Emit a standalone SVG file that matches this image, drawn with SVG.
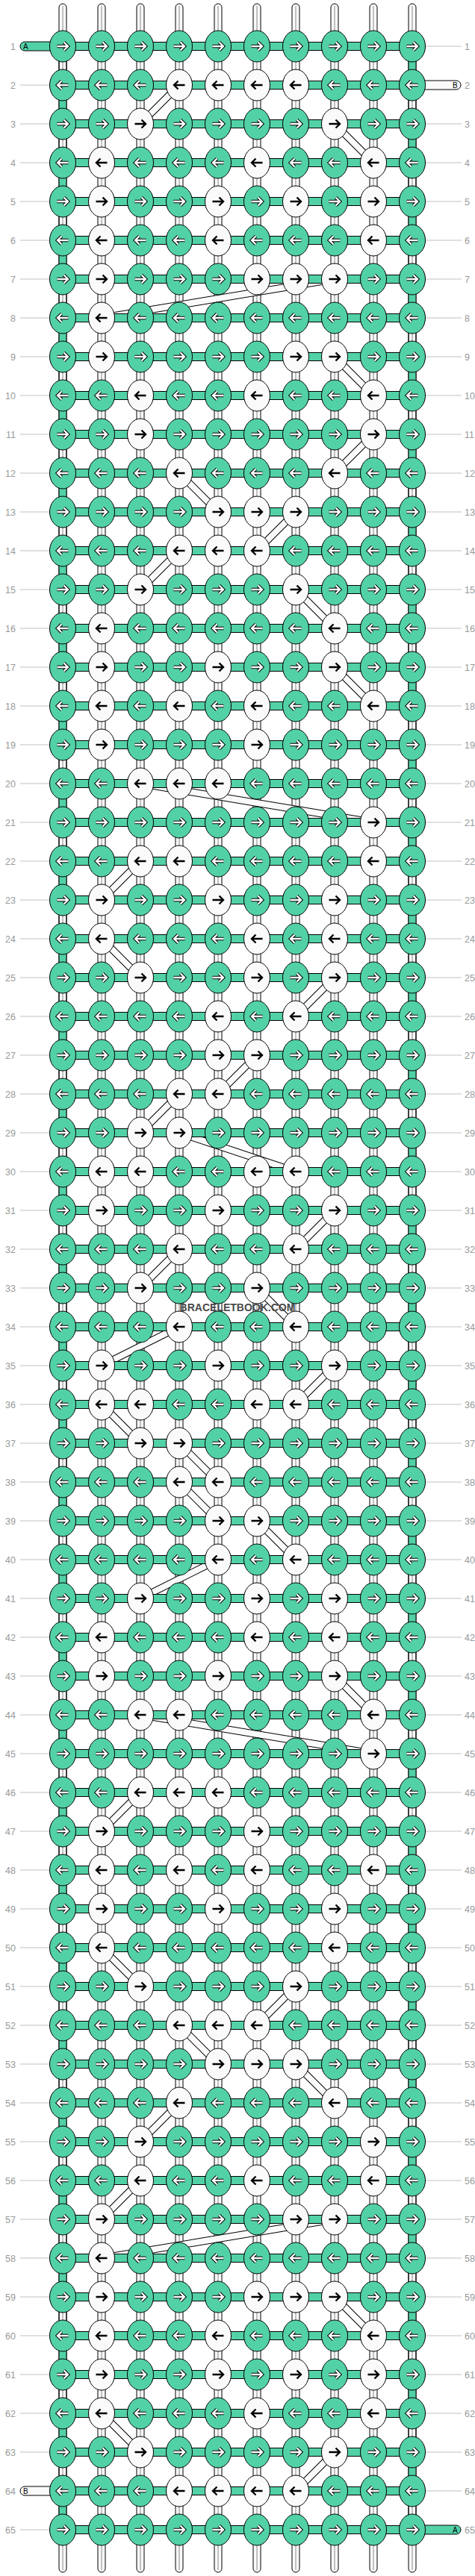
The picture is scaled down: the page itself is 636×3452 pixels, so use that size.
<svg xmlns="http://www.w3.org/2000/svg" xmlns:xlink="http://www.w3.org/1999/xlink" width="636" height="3452" viewBox="0 0 636 3452">
<style>
.g{fill:#52d1a7;stroke:#000;stroke-width:1}
.w{fill:#fafafa;stroke:#000;stroke-width:1}
.ao{fill:none;stroke:#000;stroke-width:4.4;stroke-linejoin:miter}
.ai{fill:none;stroke:#fff;stroke-width:2.4;stroke-linejoin:miter}
.ab{fill:none;stroke:#000;stroke-width:2.4;stroke-linejoin:miter}
.cl{fill:none;stroke:#888;stroke-width:1}
.bo{fill:none;stroke:#000;stroke-width:10}
.bi{fill:none;stroke:#fafafa;stroke-width:8}
.lb{font-family:"Liberation Sans",Arial,sans-serif;font-size:12.5px;fill:#999}
.st{font-family:"Liberation Sans",Arial,sans-serif;font-size:10px;fill:#000}
.wm{font-family:"Liberation Sans",Arial,sans-serif;font-size:14px;font-weight:bold;fill:#4a4a4a}
</style>
<defs>
<pattern id="gl" patternUnits="userSpaceOnUse" x="0" y="61.5" width="10" height="52"><rect width="10" height="1" fill="#c0c0c0"/></pattern>
<pattern id="p1" patternUnits="userSpaceOnUse" x="0" y="10" width="20" height="104"><rect width="20" height="52" fill="#52d1a7"/></pattern>
<pattern id="p10" patternUnits="userSpaceOnUse" x="0" y="62" width="20" height="104"><rect width="20" height="52" fill="#52d1a7"/></pattern>
<pattern id="hb" patternUnits="userSpaceOnUse" x="0" y="56" width="636" height="52"><rect x="-5" y="0.5" width="650" height="11" fill="#52d1a7" stroke="#000"/></pattern>
<path id="R" d="M-7.5 0H6M1.5-5.5L7 0L1.5 5.5"/>
<path id="L" d="M7.5 0H-6M-1.5-5.5L-7 0L-1.5 5.5"/>
<g id="a"><ellipse class="g" rx="17.5" ry="21"/><use href="#R" class="ao"/><use href="#R" class="ai"/></g>
<g id="b"><ellipse class="w" rx="17.5" ry="21"/><use href="#R" class="ab"/></g>
<g id="c"><ellipse class="g" rx="17.5" ry="21"/><use href="#L" class="ao"/><use href="#L" class="ai"/></g>
<g id="d"><ellipse class="w" rx="17.5" ry="21"/><use href="#L" class="ab"/></g>
<path id="bands" d="M240 114L188 166M448 166L500 218M448 374L136 426M448 478L500 530M500 582L448 634M240 634L292 686M396 686L344 738M240 738L188 790M396 790L448 842M448 894L500 946M188 1050L500 1102M188 1154L136 1206M136 1258L188 1310M448 1310L396 1362M344 1414L292 1466M240 1466L188 1518M240 1518L396 1570M448 1622L396 1674M240 1674L188 1726M344 1726L396 1778M240 1778L136 1830M448 1830L396 1882M136 1882L188 1934M240 1934L292 1986M240 1986L292 2038M344 2038L396 2090M292 2090L188 2142M448 2246L500 2298M188 2298L500 2350M188 2402L136 2454M136 2610L188 2662M396 2662L344 2714M240 2714L292 2766M396 2766L448 2818M240 2818L188 2870M188 2922L136 2974M448 2974L136 3026M448 3078L500 3130M136 3234L188 3286M448 3286L396 3338"/>
</defs>
<rect width="636" height="3452" fill="#fff"/>
<g id="labellines">
<rect x="27" y="60" width="40" height="3340" fill="url(#gl)"/>
<rect x="569" y="60" width="49" height="3340" fill="url(#gl)"/>
</g>
<g id="connectors">
<g id="threads">
<rect class="w" x="79" y="5" width="10" height="50" rx="5"/><rect class="w" x="131" y="5" width="10" height="50" rx="5"/><rect class="w" x="183" y="5" width="10" height="50" rx="5"/><rect class="w" x="235" y="5" width="10" height="50" rx="5"/><rect class="w" x="287" y="5" width="10" height="50" rx="5"/><rect class="w" x="339" y="5" width="10" height="50" rx="5"/><rect class="w" x="391" y="5" width="10" height="50" rx="5"/><rect class="w" x="443" y="5" width="10" height="50" rx="5"/><rect class="w" x="495" y="5" width="10" height="50" rx="5"/><rect class="w" x="547" y="5" width="10" height="50" rx="5"/>
<rect class="w" x="79" y="3397" width="10" height="50" rx="5"/><rect class="w" x="131" y="3397" width="10" height="50" rx="5"/><rect class="w" x="183" y="3397" width="10" height="50" rx="5"/><rect class="w" x="235" y="3397" width="10" height="50" rx="5"/><rect class="w" x="287" y="3397" width="10" height="50" rx="5"/><rect class="w" x="339" y="3397" width="10" height="50" rx="5"/><rect class="w" x="391" y="3397" width="10" height="50" rx="5"/><rect class="w" x="443" y="3397" width="10" height="50" rx="5"/><rect class="w" x="495" y="3397" width="10" height="50" rx="5"/><rect class="w" x="547" y="3397" width="10" height="50" rx="5"/>
</g>
<g id="verticals">
<rect class="w" x="79" y="50" width="10" height="3352"/><rect class="w" x="131" y="50" width="10" height="3352"/><rect class="w" x="183" y="50" width="10" height="3352"/><rect class="w" x="235" y="50" width="10" height="3352"/><rect class="w" x="287" y="50" width="10" height="3352"/><rect class="w" x="339" y="50" width="10" height="3352"/><rect class="w" x="391" y="50" width="10" height="3352"/><rect class="w" x="443" y="50" width="10" height="3352"/><rect class="w" x="495" y="50" width="10" height="3352"/><rect class="w" x="547" y="50" width="10" height="3352"/>
<path class="cl" d="M84 8V3444M136 8V3444M188 8V3444M240 8V3444M292 8V3444M344 8V3444M396 8V3444M448 8V3444M500 8V3444M552 8V3444"/>
<rect x="79" y="62" width="10" height="3328" fill="url(#p1)" stroke="#000"/>
<rect x="547" y="62" width="10" height="3328" fill="url(#p10)" stroke="#000"/>
</g>
<g id="diagonals"><use href="#bands" class="bo"/><use href="#bands" class="bi"/></g>
<rect id="horizontals" x="84" y="56" width="468" height="3340" fill="url(#hb)"/>
<g id="ends">
<rect class="g" x="27" y="56" width="60" height="12" rx="6"/><text class="st" x="31" y="65.5">A</text>
<rect class="w" x="540" y="108" width="77" height="12" rx="6"/><text class="st" x="606" y="117.5">B</text>
<rect class="w" x="27" y="3332" width="60" height="12" rx="6"/><text class="st" x="31" y="3341.5">B</text>
<rect class="g" x="540" y="3384" width="77" height="12" rx="6"/><text class="st" x="606" y="3393.5">A</text>
</g>
</g>
<g id="knots">
<g id="r1" transform="translate(0 62)"><use href="#a" x="84"/><use href="#a" x="136"/><use href="#a" x="188"/><use href="#a" x="240"/><use href="#a" x="292"/><use href="#a" x="344"/><use href="#a" x="396"/><use href="#a" x="448"/><use href="#a" x="500"/><use href="#a" x="552"/></g>
<g id="r2" transform="translate(0 114)"><use href="#c" x="84"/><use href="#c" x="136"/><use href="#c" x="188"/><use href="#d" x="240"/><use href="#d" x="292"/><use href="#d" x="344"/><use href="#d" x="396"/><use href="#c" x="448"/><use href="#c" x="500"/><use href="#c" x="552"/></g>
<g id="r3" transform="translate(0 166)"><use href="#a" x="84"/><use href="#a" x="136"/><use href="#b" x="188"/><use href="#a" x="240"/><use href="#a" x="292"/><use href="#a" x="344"/><use href="#a" x="396"/><use href="#b" x="448"/><use href="#a" x="500"/><use href="#a" x="552"/></g>
<g id="r4" transform="translate(0 218)"><use href="#c" x="84"/><use href="#d" x="136"/><use href="#c" x="188"/><use href="#c" x="240"/><use href="#c" x="292"/><use href="#d" x="344"/><use href="#c" x="396"/><use href="#c" x="448"/><use href="#d" x="500"/><use href="#c" x="552"/></g>
<g id="r5" transform="translate(0 270)"><use href="#a" x="84"/><use href="#b" x="136"/><use href="#a" x="188"/><use href="#a" x="240"/><use href="#b" x="292"/><use href="#a" x="344"/><use href="#b" x="396"/><use href="#a" x="448"/><use href="#b" x="500"/><use href="#a" x="552"/></g>
<g id="r6" transform="translate(0 322)"><use href="#c" x="84"/><use href="#d" x="136"/><use href="#c" x="188"/><use href="#c" x="240"/><use href="#d" x="292"/><use href="#c" x="344"/><use href="#c" x="396"/><use href="#c" x="448"/><use href="#d" x="500"/><use href="#c" x="552"/></g>
<g id="r7" transform="translate(0 374)"><use href="#a" x="84"/><use href="#b" x="136"/><use href="#a" x="188"/><use href="#a" x="240"/><use href="#a" x="292"/><use href="#b" x="344"/><use href="#b" x="396"/><use href="#b" x="448"/><use href="#a" x="500"/><use href="#a" x="552"/></g>
<g id="r8" transform="translate(0 426)"><use href="#c" x="84"/><use href="#d" x="136"/><use href="#c" x="188"/><use href="#c" x="240"/><use href="#c" x="292"/><use href="#c" x="344"/><use href="#c" x="396"/><use href="#c" x="448"/><use href="#c" x="500"/><use href="#c" x="552"/></g>
<g id="r9" transform="translate(0 478)"><use href="#a" x="84"/><use href="#b" x="136"/><use href="#a" x="188"/><use href="#a" x="240"/><use href="#a" x="292"/><use href="#a" x="344"/><use href="#b" x="396"/><use href="#b" x="448"/><use href="#a" x="500"/><use href="#a" x="552"/></g>
<g id="r10" transform="translate(0 530)"><use href="#c" x="84"/><use href="#c" x="136"/><use href="#d" x="188"/><use href="#c" x="240"/><use href="#c" x="292"/><use href="#d" x="344"/><use href="#c" x="396"/><use href="#c" x="448"/><use href="#d" x="500"/><use href="#c" x="552"/></g>
<g id="r11" transform="translate(0 582)"><use href="#a" x="84"/><use href="#a" x="136"/><use href="#b" x="188"/><use href="#a" x="240"/><use href="#a" x="292"/><use href="#a" x="344"/><use href="#a" x="396"/><use href="#a" x="448"/><use href="#b" x="500"/><use href="#a" x="552"/></g>
<g id="r12" transform="translate(0 634)"><use href="#c" x="84"/><use href="#c" x="136"/><use href="#c" x="188"/><use href="#d" x="240"/><use href="#c" x="292"/><use href="#c" x="344"/><use href="#c" x="396"/><use href="#d" x="448"/><use href="#c" x="500"/><use href="#c" x="552"/></g>
<g id="r13" transform="translate(0 686)"><use href="#a" x="84"/><use href="#a" x="136"/><use href="#a" x="188"/><use href="#a" x="240"/><use href="#b" x="292"/><use href="#b" x="344"/><use href="#b" x="396"/><use href="#a" x="448"/><use href="#a" x="500"/><use href="#a" x="552"/></g>
<g id="r14" transform="translate(0 738)"><use href="#c" x="84"/><use href="#c" x="136"/><use href="#c" x="188"/><use href="#d" x="240"/><use href="#d" x="292"/><use href="#d" x="344"/><use href="#c" x="396"/><use href="#c" x="448"/><use href="#c" x="500"/><use href="#c" x="552"/></g>
<g id="r15" transform="translate(0 790)"><use href="#a" x="84"/><use href="#a" x="136"/><use href="#b" x="188"/><use href="#a" x="240"/><use href="#a" x="292"/><use href="#a" x="344"/><use href="#b" x="396"/><use href="#a" x="448"/><use href="#a" x="500"/><use href="#a" x="552"/></g>
<g id="r16" transform="translate(0 842)"><use href="#c" x="84"/><use href="#d" x="136"/><use href="#c" x="188"/><use href="#c" x="240"/><use href="#c" x="292"/><use href="#c" x="344"/><use href="#c" x="396"/><use href="#d" x="448"/><use href="#c" x="500"/><use href="#c" x="552"/></g>
<g id="r17" transform="translate(0 894)"><use href="#a" x="84"/><use href="#b" x="136"/><use href="#a" x="188"/><use href="#a" x="240"/><use href="#b" x="292"/><use href="#a" x="344"/><use href="#a" x="396"/><use href="#b" x="448"/><use href="#a" x="500"/><use href="#a" x="552"/></g>
<g id="r18" transform="translate(0 946)"><use href="#c" x="84"/><use href="#d" x="136"/><use href="#c" x="188"/><use href="#d" x="240"/><use href="#c" x="292"/><use href="#d" x="344"/><use href="#c" x="396"/><use href="#c" x="448"/><use href="#d" x="500"/><use href="#c" x="552"/></g>
<g id="r19" transform="translate(0 998)"><use href="#a" x="84"/><use href="#b" x="136"/><use href="#a" x="188"/><use href="#a" x="240"/><use href="#a" x="292"/><use href="#b" x="344"/><use href="#a" x="396"/><use href="#a" x="448"/><use href="#a" x="500"/><use href="#a" x="552"/></g>
<g id="r20" transform="translate(0 1050)"><use href="#c" x="84"/><use href="#c" x="136"/><use href="#d" x="188"/><use href="#d" x="240"/><use href="#d" x="292"/><use href="#c" x="344"/><use href="#c" x="396"/><use href="#c" x="448"/><use href="#c" x="500"/><use href="#c" x="552"/></g>
<g id="r21" transform="translate(0 1102)"><use href="#a" x="84"/><use href="#a" x="136"/><use href="#a" x="188"/><use href="#a" x="240"/><use href="#a" x="292"/><use href="#a" x="344"/><use href="#a" x="396"/><use href="#a" x="448"/><use href="#b" x="500"/><use href="#a" x="552"/></g>
<g id="r22" transform="translate(0 1154)"><use href="#c" x="84"/><use href="#c" x="136"/><use href="#d" x="188"/><use href="#d" x="240"/><use href="#c" x="292"/><use href="#c" x="344"/><use href="#c" x="396"/><use href="#c" x="448"/><use href="#d" x="500"/><use href="#c" x="552"/></g>
<g id="r23" transform="translate(0 1206)"><use href="#a" x="84"/><use href="#b" x="136"/><use href="#a" x="188"/><use href="#a" x="240"/><use href="#b" x="292"/><use href="#a" x="344"/><use href="#a" x="396"/><use href="#b" x="448"/><use href="#a" x="500"/><use href="#a" x="552"/></g>
<g id="r24" transform="translate(0 1258)"><use href="#c" x="84"/><use href="#d" x="136"/><use href="#c" x="188"/><use href="#c" x="240"/><use href="#c" x="292"/><use href="#d" x="344"/><use href="#c" x="396"/><use href="#d" x="448"/><use href="#c" x="500"/><use href="#c" x="552"/></g>
<g id="r25" transform="translate(0 1310)"><use href="#a" x="84"/><use href="#a" x="136"/><use href="#b" x="188"/><use href="#a" x="240"/><use href="#a" x="292"/><use href="#b" x="344"/><use href="#a" x="396"/><use href="#b" x="448"/><use href="#a" x="500"/><use href="#a" x="552"/></g>
<g id="r26" transform="translate(0 1362)"><use href="#c" x="84"/><use href="#c" x="136"/><use href="#c" x="188"/><use href="#c" x="240"/><use href="#d" x="292"/><use href="#c" x="344"/><use href="#d" x="396"/><use href="#c" x="448"/><use href="#c" x="500"/><use href="#c" x="552"/></g>
<g id="r27" transform="translate(0 1414)"><use href="#a" x="84"/><use href="#a" x="136"/><use href="#a" x="188"/><use href="#a" x="240"/><use href="#b" x="292"/><use href="#b" x="344"/><use href="#a" x="396"/><use href="#a" x="448"/><use href="#a" x="500"/><use href="#a" x="552"/></g>
<g id="r28" transform="translate(0 1466)"><use href="#c" x="84"/><use href="#c" x="136"/><use href="#c" x="188"/><use href="#d" x="240"/><use href="#d" x="292"/><use href="#c" x="344"/><use href="#c" x="396"/><use href="#c" x="448"/><use href="#c" x="500"/><use href="#c" x="552"/></g>
<g id="r29" transform="translate(0 1518)"><use href="#a" x="84"/><use href="#a" x="136"/><use href="#b" x="188"/><use href="#b" x="240"/><use href="#a" x="292"/><use href="#a" x="344"/><use href="#a" x="396"/><use href="#a" x="448"/><use href="#a" x="500"/><use href="#a" x="552"/></g>
<g id="r30" transform="translate(0 1570)"><use href="#c" x="84"/><use href="#d" x="136"/><use href="#d" x="188"/><use href="#c" x="240"/><use href="#c" x="292"/><use href="#d" x="344"/><use href="#d" x="396"/><use href="#c" x="448"/><use href="#c" x="500"/><use href="#c" x="552"/></g>
<g id="r31" transform="translate(0 1622)"><use href="#a" x="84"/><use href="#b" x="136"/><use href="#a" x="188"/><use href="#a" x="240"/><use href="#b" x="292"/><use href="#a" x="344"/><use href="#a" x="396"/><use href="#b" x="448"/><use href="#a" x="500"/><use href="#a" x="552"/></g>
<g id="r32" transform="translate(0 1674)"><use href="#c" x="84"/><use href="#c" x="136"/><use href="#c" x="188"/><use href="#d" x="240"/><use href="#c" x="292"/><use href="#c" x="344"/><use href="#d" x="396"/><use href="#c" x="448"/><use href="#c" x="500"/><use href="#c" x="552"/></g>
<g id="r33" transform="translate(0 1726)"><use href="#a" x="84"/><use href="#a" x="136"/><use href="#b" x="188"/><use href="#a" x="240"/><use href="#a" x="292"/><use href="#b" x="344"/><use href="#a" x="396"/><use href="#a" x="448"/><use href="#a" x="500"/><use href="#a" x="552"/></g>
<g id="r34" transform="translate(0 1778)"><use href="#c" x="84"/><use href="#c" x="136"/><use href="#c" x="188"/><use href="#d" x="240"/><use href="#c" x="292"/><use href="#c" x="344"/><use href="#d" x="396"/><use href="#c" x="448"/><use href="#c" x="500"/><use href="#c" x="552"/></g>
<g id="r35" transform="translate(0 1830)"><use href="#a" x="84"/><use href="#b" x="136"/><use href="#a" x="188"/><use href="#a" x="240"/><use href="#b" x="292"/><use href="#a" x="344"/><use href="#a" x="396"/><use href="#b" x="448"/><use href="#a" x="500"/><use href="#a" x="552"/></g>
<g id="r36" transform="translate(0 1882)"><use href="#c" x="84"/><use href="#d" x="136"/><use href="#d" x="188"/><use href="#c" x="240"/><use href="#c" x="292"/><use href="#d" x="344"/><use href="#d" x="396"/><use href="#c" x="448"/><use href="#c" x="500"/><use href="#c" x="552"/></g>
<g id="r37" transform="translate(0 1934)"><use href="#a" x="84"/><use href="#a" x="136"/><use href="#b" x="188"/><use href="#b" x="240"/><use href="#a" x="292"/><use href="#a" x="344"/><use href="#a" x="396"/><use href="#a" x="448"/><use href="#a" x="500"/><use href="#a" x="552"/></g>
<g id="r38" transform="translate(0 1986)"><use href="#c" x="84"/><use href="#c" x="136"/><use href="#c" x="188"/><use href="#d" x="240"/><use href="#d" x="292"/><use href="#c" x="344"/><use href="#c" x="396"/><use href="#c" x="448"/><use href="#c" x="500"/><use href="#c" x="552"/></g>
<g id="r39" transform="translate(0 2038)"><use href="#a" x="84"/><use href="#a" x="136"/><use href="#a" x="188"/><use href="#a" x="240"/><use href="#b" x="292"/><use href="#b" x="344"/><use href="#a" x="396"/><use href="#a" x="448"/><use href="#a" x="500"/><use href="#a" x="552"/></g>
<g id="r40" transform="translate(0 2090)"><use href="#c" x="84"/><use href="#c" x="136"/><use href="#c" x="188"/><use href="#c" x="240"/><use href="#d" x="292"/><use href="#c" x="344"/><use href="#d" x="396"/><use href="#c" x="448"/><use href="#c" x="500"/><use href="#c" x="552"/></g>
<g id="r41" transform="translate(0 2142)"><use href="#a" x="84"/><use href="#a" x="136"/><use href="#b" x="188"/><use href="#a" x="240"/><use href="#a" x="292"/><use href="#b" x="344"/><use href="#a" x="396"/><use href="#b" x="448"/><use href="#a" x="500"/><use href="#a" x="552"/></g>
<g id="r42" transform="translate(0 2194)"><use href="#c" x="84"/><use href="#d" x="136"/><use href="#c" x="188"/><use href="#c" x="240"/><use href="#c" x="292"/><use href="#d" x="344"/><use href="#c" x="396"/><use href="#d" x="448"/><use href="#c" x="500"/><use href="#c" x="552"/></g>
<g id="r43" transform="translate(0 2246)"><use href="#a" x="84"/><use href="#b" x="136"/><use href="#a" x="188"/><use href="#a" x="240"/><use href="#b" x="292"/><use href="#a" x="344"/><use href="#a" x="396"/><use href="#b" x="448"/><use href="#a" x="500"/><use href="#a" x="552"/></g>
<g id="r44" transform="translate(0 2298)"><use href="#c" x="84"/><use href="#c" x="136"/><use href="#d" x="188"/><use href="#d" x="240"/><use href="#c" x="292"/><use href="#c" x="344"/><use href="#c" x="396"/><use href="#c" x="448"/><use href="#d" x="500"/><use href="#c" x="552"/></g>
<g id="r45" transform="translate(0 2350)"><use href="#a" x="84"/><use href="#a" x="136"/><use href="#a" x="188"/><use href="#a" x="240"/><use href="#a" x="292"/><use href="#a" x="344"/><use href="#a" x="396"/><use href="#a" x="448"/><use href="#b" x="500"/><use href="#a" x="552"/></g>
<g id="r46" transform="translate(0 2402)"><use href="#c" x="84"/><use href="#c" x="136"/><use href="#d" x="188"/><use href="#d" x="240"/><use href="#d" x="292"/><use href="#c" x="344"/><use href="#c" x="396"/><use href="#c" x="448"/><use href="#c" x="500"/><use href="#c" x="552"/></g>
<g id="r47" transform="translate(0 2454)"><use href="#a" x="84"/><use href="#b" x="136"/><use href="#a" x="188"/><use href="#a" x="240"/><use href="#a" x="292"/><use href="#b" x="344"/><use href="#a" x="396"/><use href="#a" x="448"/><use href="#a" x="500"/><use href="#a" x="552"/></g>
<g id="r48" transform="translate(0 2506)"><use href="#c" x="84"/><use href="#d" x="136"/><use href="#c" x="188"/><use href="#d" x="240"/><use href="#c" x="292"/><use href="#d" x="344"/><use href="#c" x="396"/><use href="#c" x="448"/><use href="#d" x="500"/><use href="#c" x="552"/></g>
<g id="r49" transform="translate(0 2558)"><use href="#a" x="84"/><use href="#b" x="136"/><use href="#a" x="188"/><use href="#a" x="240"/><use href="#b" x="292"/><use href="#a" x="344"/><use href="#a" x="396"/><use href="#b" x="448"/><use href="#a" x="500"/><use href="#a" x="552"/></g>
<g id="r50" transform="translate(0 2610)"><use href="#c" x="84"/><use href="#d" x="136"/><use href="#c" x="188"/><use href="#c" x="240"/><use href="#c" x="292"/><use href="#c" x="344"/><use href="#c" x="396"/><use href="#d" x="448"/><use href="#c" x="500"/><use href="#c" x="552"/></g>
<g id="r51" transform="translate(0 2662)"><use href="#a" x="84"/><use href="#a" x="136"/><use href="#b" x="188"/><use href="#a" x="240"/><use href="#a" x="292"/><use href="#a" x="344"/><use href="#b" x="396"/><use href="#a" x="448"/><use href="#a" x="500"/><use href="#a" x="552"/></g>
<g id="r52" transform="translate(0 2714)"><use href="#c" x="84"/><use href="#c" x="136"/><use href="#c" x="188"/><use href="#d" x="240"/><use href="#d" x="292"/><use href="#d" x="344"/><use href="#c" x="396"/><use href="#c" x="448"/><use href="#c" x="500"/><use href="#c" x="552"/></g>
<g id="r53" transform="translate(0 2766)"><use href="#a" x="84"/><use href="#a" x="136"/><use href="#a" x="188"/><use href="#a" x="240"/><use href="#b" x="292"/><use href="#b" x="344"/><use href="#b" x="396"/><use href="#a" x="448"/><use href="#a" x="500"/><use href="#a" x="552"/></g>
<g id="r54" transform="translate(0 2818)"><use href="#c" x="84"/><use href="#c" x="136"/><use href="#c" x="188"/><use href="#d" x="240"/><use href="#c" x="292"/><use href="#c" x="344"/><use href="#c" x="396"/><use href="#d" x="448"/><use href="#c" x="500"/><use href="#c" x="552"/></g>
<g id="r55" transform="translate(0 2870)"><use href="#a" x="84"/><use href="#a" x="136"/><use href="#b" x="188"/><use href="#a" x="240"/><use href="#a" x="292"/><use href="#a" x="344"/><use href="#a" x="396"/><use href="#a" x="448"/><use href="#b" x="500"/><use href="#a" x="552"/></g>
<g id="r56" transform="translate(0 2922)"><use href="#c" x="84"/><use href="#c" x="136"/><use href="#d" x="188"/><use href="#c" x="240"/><use href="#c" x="292"/><use href="#d" x="344"/><use href="#c" x="396"/><use href="#c" x="448"/><use href="#d" x="500"/><use href="#c" x="552"/></g>
<g id="r57" transform="translate(0 2974)"><use href="#a" x="84"/><use href="#b" x="136"/><use href="#a" x="188"/><use href="#a" x="240"/><use href="#a" x="292"/><use href="#a" x="344"/><use href="#b" x="396"/><use href="#b" x="448"/><use href="#a" x="500"/><use href="#a" x="552"/></g>
<g id="r58" transform="translate(0 3026)"><use href="#c" x="84"/><use href="#d" x="136"/><use href="#c" x="188"/><use href="#c" x="240"/><use href="#c" x="292"/><use href="#c" x="344"/><use href="#c" x="396"/><use href="#c" x="448"/><use href="#c" x="500"/><use href="#c" x="552"/></g>
<g id="r59" transform="translate(0 3078)"><use href="#a" x="84"/><use href="#b" x="136"/><use href="#a" x="188"/><use href="#a" x="240"/><use href="#a" x="292"/><use href="#b" x="344"/><use href="#b" x="396"/><use href="#b" x="448"/><use href="#a" x="500"/><use href="#a" x="552"/></g>
<g id="r60" transform="translate(0 3130)"><use href="#c" x="84"/><use href="#d" x="136"/><use href="#c" x="188"/><use href="#c" x="240"/><use href="#d" x="292"/><use href="#c" x="344"/><use href="#c" x="396"/><use href="#c" x="448"/><use href="#d" x="500"/><use href="#c" x="552"/></g>
<g id="r61" transform="translate(0 3182)"><use href="#a" x="84"/><use href="#b" x="136"/><use href="#a" x="188"/><use href="#a" x="240"/><use href="#b" x="292"/><use href="#a" x="344"/><use href="#b" x="396"/><use href="#a" x="448"/><use href="#b" x="500"/><use href="#a" x="552"/></g>
<g id="r62" transform="translate(0 3234)"><use href="#c" x="84"/><use href="#d" x="136"/><use href="#c" x="188"/><use href="#c" x="240"/><use href="#c" x="292"/><use href="#d" x="344"/><use href="#c" x="396"/><use href="#c" x="448"/><use href="#d" x="500"/><use href="#c" x="552"/></g>
<g id="r63" transform="translate(0 3286)"><use href="#a" x="84"/><use href="#a" x="136"/><use href="#b" x="188"/><use href="#a" x="240"/><use href="#a" x="292"/><use href="#a" x="344"/><use href="#a" x="396"/><use href="#b" x="448"/><use href="#a" x="500"/><use href="#a" x="552"/></g>
<g id="r64" transform="translate(0 3338)"><use href="#c" x="84"/><use href="#c" x="136"/><use href="#c" x="188"/><use href="#d" x="240"/><use href="#d" x="292"/><use href="#d" x="344"/><use href="#d" x="396"/><use href="#c" x="448"/><use href="#c" x="500"/><use href="#c" x="552"/></g>
<g id="r65" transform="translate(0 3390)"><use href="#a" x="84"/><use href="#a" x="136"/><use href="#a" x="188"/><use href="#a" x="240"/><use href="#a" x="292"/><use href="#a" x="344"/><use href="#a" x="396"/><use href="#a" x="448"/><use href="#a" x="500"/><use href="#a" x="552"/></g>
</g>
<g id="labels-left" class="lb" text-anchor="end" transform="translate(21 0)">
<text y="66.5">1</text><text y="118.5">2</text><text y="170.5">3</text><text y="222.5">4</text><text y="274.5">5</text><text y="326.5">6</text><text y="378.5">7</text><text y="430.5">8</text><text y="482.5">9</text><text y="534.5">10</text><text y="586.5">11</text><text y="638.5">12</text><text y="690.5">13</text><text y="742.5">14</text><text y="794.5">15</text><text y="846.5">16</text><text y="898.5">17</text><text y="950.5">18</text><text y="1002.5">19</text><text y="1054.5">20</text><text y="1106.5">21</text><text y="1158.5">22</text><text y="1210.5">23</text><text y="1262.5">24</text><text y="1314.5">25</text><text y="1366.5">26</text><text y="1418.5">27</text><text y="1470.5">28</text><text y="1522.5">29</text><text y="1574.5">30</text><text y="1626.5">31</text><text y="1678.5">32</text><text y="1730.5">33</text><text y="1782.5">34</text><text y="1834.5">35</text><text y="1886.5">36</text><text y="1938.5">37</text><text y="1990.5">38</text><text y="2042.5">39</text><text y="2094.5">40</text><text y="2146.5">41</text><text y="2198.5">42</text><text y="2250.5">43</text><text y="2302.5">44</text><text y="2354.5">45</text><text y="2406.5">46</text><text y="2458.5">47</text><text y="2510.5">48</text><text y="2562.5">49</text><text y="2614.5">50</text><text y="2666.5">51</text><text y="2718.5">52</text><text y="2770.5">53</text><text y="2822.5">54</text><text y="2874.5">55</text><text y="2926.5">56</text><text y="2978.5">57</text><text y="3030.5">58</text><text y="3082.5">59</text><text y="3134.5">60</text><text y="3186.5">61</text><text y="3238.5">62</text><text y="3290.5">63</text><text y="3342.5">64</text><text y="3394.5">65</text>
</g>
<g id="labels-right" class="lb" transform="translate(622 0)">
<text y="66.5">1</text><text y="118.5">2</text><text y="170.5">3</text><text y="222.5">4</text><text y="274.5">5</text><text y="326.5">6</text><text y="378.5">7</text><text y="430.5">8</text><text y="482.5">9</text><text y="534.5">10</text><text y="586.5">11</text><text y="638.5">12</text><text y="690.5">13</text><text y="742.5">14</text><text y="794.5">15</text><text y="846.5">16</text><text y="898.5">17</text><text y="950.5">18</text><text y="1002.5">19</text><text y="1054.5">20</text><text y="1106.5">21</text><text y="1158.5">22</text><text y="1210.5">23</text><text y="1262.5">24</text><text y="1314.5">25</text><text y="1366.5">26</text><text y="1418.5">27</text><text y="1470.5">28</text><text y="1522.5">29</text><text y="1574.5">30</text><text y="1626.5">31</text><text y="1678.5">32</text><text y="1730.5">33</text><text y="1782.5">34</text><text y="1834.5">35</text><text y="1886.5">36</text><text y="1938.5">37</text><text y="1990.5">38</text><text y="2042.5">39</text><text y="2094.5">40</text><text y="2146.5">41</text><text y="2198.5">42</text><text y="2250.5">43</text><text y="2302.5">44</text><text y="2354.5">45</text><text y="2406.5">46</text><text y="2458.5">47</text><text y="2510.5">48</text><text y="2562.5">49</text><text y="2614.5">50</text><text y="2666.5">51</text><text y="2718.5">52</text><text y="2770.5">53</text><text y="2822.5">54</text><text y="2874.5">55</text><text y="2926.5">56</text><text y="2978.5">57</text><text y="3030.5">58</text><text y="3082.5">59</text><text y="3134.5">60</text><text y="3186.5">61</text><text y="3238.5">62</text><text y="3290.5">63</text><text y="3342.5">64</text><text y="3394.5">65</text>
</g>
<text class="wm" x="318" y="1757" text-anchor="middle">BRACELETBOOK.COM</text>
</svg>
